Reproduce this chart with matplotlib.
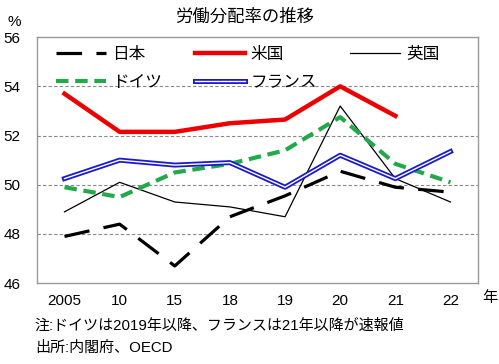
import numpy as np
import matplotlib.pyplot as plt
import matplotlib.patheffects as pe

plt.rcParams['font.family'] = ['Liberation Sans', 'Noto Sans CJK JP']

# データ
years = ['2005', '10', '15', '18', '19', '20', '21', '22']
japan = [47.9, 48.4, 46.7, 48.7, 49.55, 50.55, 49.9, 49.7]
usa = [53.7, 52.15, 52.15, 52.5, 52.65, 54.0, 52.8]
uk = [48.9, 50.1, 49.3, 49.1, 48.7, 53.2, 50.25, 49.3]
germany = [49.9, 49.5, 50.5, 50.85, 51.4, 52.75, 50.85, 50.1]
france = [50.25, 51.0, 50.8, 50.9, 49.9, 51.2, 50.25, 51.35]

x = np.arange(len(years)) + 0.5

fig = plt.figure(figsize=(4.99, 3.64), dpi=100)
ax = fig.add_axes([0.074, 0.222, 0.884, 0.676])

l_jp, = ax.plot(x, japan, color='black', lw=2.3, dashes=(8, 4.5), label='日本')
l_us, = ax.plot(x[:len(usa)], usa, color='#ee0000', lw=3.2, label='米国')
l_uk, = ax.plot(x, uk, color='black', lw=0.9, label='英国')
l_de, = ax.plot(x, germany, color='#22aa4a', lw=3.0, dashes=(3, 1.6), label='ドイツ')
l_fr, = ax.plot(x, france, color='white', lw=1.0, label='フランス',
                path_effects=[pe.Stroke(linewidth=3.6, foreground='#1a1acc'), pe.Normal()])

ax.set_xlim(0, len(years))
ax.set_ylim(46, 56)
ax.set_yticks([46, 48, 50, 52, 54, 56])
ax.set_xticks(x)
ax.set_xticklabels(years)
ax.tick_params(length=0, labelsize=11, pad=8)
ax.tick_params(axis='y', pad=12)
for yv in [48, 50, 52, 54]:
    ax.axhline(yv, color='#888888', lw=0.8, ls=(0, (3, 2)), zorder=0)
for s in ax.spines.values():
    s.set_color('#999999')
    s.set_linewidth(1.0)

# 凡例は行ごとに並べる
handles = [l_jp, l_de, l_us, l_fr, l_uk]
ax.legend(handles, [h.get_label() for h in handles],
          loc='upper left', bbox_to_anchor=(0.02, 1.0), ncol=3, frameon=False,
          fontsize=12, handlelength=3.0, columnspacing=2.0, handletextpad=0.35,
          borderaxespad=0.2, labelspacing=0.75)

fig.text(0.49, 0.955, '労働分配率の推移', ha='center', va='center', fontsize=12.5)
fig.text(0.028, 0.94, '%', ha='center', va='center', fontsize=11)
fig.text(0.966, 0.182, '年', ha='left', va='center', fontsize=11)
fig.text(0.07, 0.105, '注:ドイツは2019年以降、フランスは21年以降が速報値', ha='left', va='center', fontsize=10.8)
fig.text(0.07, 0.045, '出所:内閣府、OECD', ha='left', va='center', fontsize=10.8)

fig.savefig('out.png', dpi=100)
